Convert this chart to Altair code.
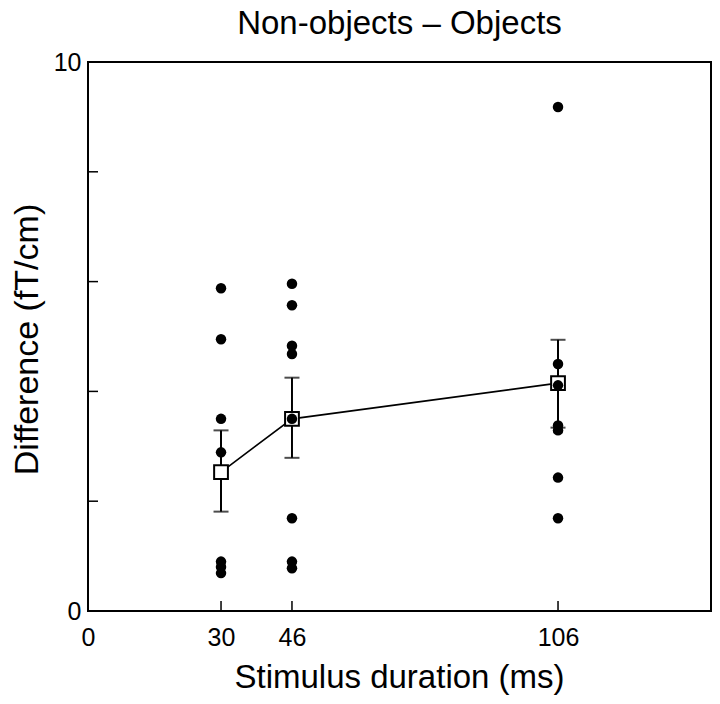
import altair as alt
import pandas as pd

# individual subject values (fT/cm)
dur_30 = [5.88, 4.95, 3.50, 2.89, 0.90, 0.80, 0.69]
dur_46 = [5.96, 5.57, 4.83, 4.68, 3.50, 1.69, 0.90, 0.78]
dur_106 = [9.18, 4.50, 4.11, 3.38, 3.29, 2.43, 1.69]

# group means and error bar limits
durations = [30, 46, 106]
means = [2.53, 3.50, 4.15]
err_low = [1.81, 2.79, 3.34]
err_high = [3.29, 4.25, 4.94]

x_tick_labels = [0, 30, 46, 106]
x_inner_ticks = [30, 46, 106]
y_tick_labels = [0, 10]
y_inner_ticks = [2, 4, 6, 8]

FONT = "Liberation Sans"

pts = pd.DataFrame(
    {"duration": [30] * len(dur_30) + [46] * len(dur_46) + [106] * len(dur_106),
     "value": dur_30 + dur_46 + dur_106}
)
mdf = pd.DataFrame({"duration": durations, "value": means, "lo": err_low, "hi": err_high})
xt = pd.DataFrame({"duration": x_inner_ticks})
yt = pd.DataFrame({"value": y_inner_ticks})

xscale = alt.Scale(domain=[0, 140.5], nice=False, zero=False)
yscale = alt.Scale(domain=[0, 10], nice=False, zero=False)

x_axis = alt.Axis(
    values=x_tick_labels, ticks=False, domain=False, grid=False,
    labelFont=FONT, labelFontSize=25, labelColor="black", labelPadding=14,
    labelFlush=False,
    title="Stimulus duration (ms)", titleFont=FONT, titleFontSize=33,
    titleFontWeight="normal", titleColor="black",
    titleX=311, titleY=76, titleBaseline="alphabetic", titleAnchor="middle",
)
y_axis = alt.Axis(
    values=y_tick_labels, ticks=False, domain=False, grid=False,
    labelFont=FONT, labelFontSize=25, labelColor="black", labelPadding=7,
    labelFlush=False,
    title="Difference (fT/cm)", titleFont=FONT, titleFontSize=34,
    titleFontWeight="normal", titleColor="black",
    titleX=-51, titleY=277, titleBaseline="alphabetic", titleAngle=-90,
    titleAnchor="middle",
)

X = alt.X("duration:Q", scale=xscale, axis=x_axis)
Y = alt.Y("value:Q", scale=yscale, axis=y_axis)

xticks = alt.Chart(xt).mark_rule(color="black", strokeWidth=1.5).encode(
    x=X, y=alt.value(549), y2=alt.value(539)
)
yticks = alt.Chart(yt).mark_rule(color="black", strokeWidth=1.5).encode(
    y=Y, x=alt.value(0), x2=alt.value(10)
)

err = alt.Chart(mdf).mark_rule(color="black", strokeWidth=2).encode(
    x=X, y=alt.Y("lo:Q", scale=yscale), y2="hi:Q"
)
cap_lo = alt.Chart(mdf).mark_tick(color="black", orient="horizontal", size=15, thickness=2).encode(
    x=X, y=alt.Y("lo:Q", scale=yscale)
)
cap_hi = alt.Chart(mdf).mark_tick(color="black", orient="horizontal", size=15, thickness=2).encode(
    x=X, y=alt.Y("hi:Q", scale=yscale)
)
line = alt.Chart(mdf).mark_line(color="black", strokeWidth=1.6).encode(x=X, y=Y)
squares = alt.Chart(mdf).mark_square(
    fill="white", stroke="black", strokeWidth=2, size=190, opacity=1, fillOpacity=1
).encode(x=X, y=Y)
dots = alt.Chart(pts).mark_circle(color="black", size=110, opacity=1).encode(x=X, y=Y)

chart = alt.layer(xticks, yticks, err, cap_lo, cap_hi, line, squares, dots).properties(
    width=623,
    height=549,
    background="white",
    title=alt.TitleParams(
        "Non-objects \u2013 Objects", font=FONT, fontSize=33, fontWeight="normal",
        color="black", anchor="middle", baseline="alphabetic", offset=-17,
    ),
    autosize=alt.AutoSizeParams(type="none"),
    padding={"left": 80, "top": 54, "right": 1, "bottom": 85},
).configure_view(
    stroke="black", strokeWidth=2
)

chart.save("out.html", embed_options={"renderer": "svg", "actions": False})
